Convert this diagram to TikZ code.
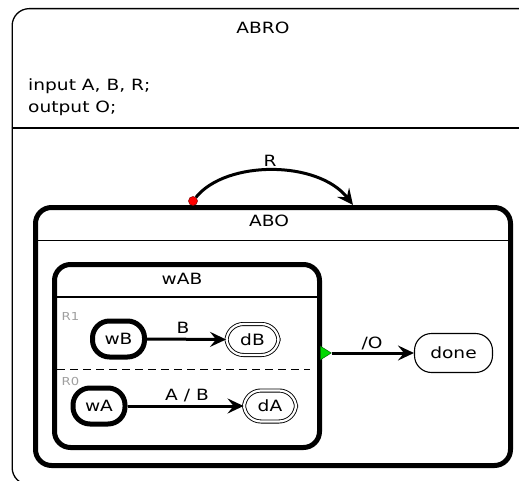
\documentclass[tikz,border=0pt]{standalone}
\usepackage{fontspec}
\setmainfont{DejaVu Sans}[FakeStretch=1.2]
\usetikzlibrary{arrows.meta,shapes.geometric}

\tikzset{
  lbl/.style={inner sep=0pt, anchor=base, font=\fontsize{15.5}{18}\selectfont},
  small/.style={inner sep=0pt, anchor=base west, text=gray!75, font=\fontsize{11}{13}\selectfont},
  composite/.style={draw, line width=5pt, rounded corners=16pt, inner sep=0pt, anchor=north west},
  statebox/.style={draw, rounded corners=17pt, inner sep=0pt, font=\fontsize{15.5}{18}\selectfont},
  initstate/.style={statebox, line width=5pt, minimum width=52pt, minimum height=36pt},
  finalstate/.style={statebox, double, line width=0.9pt, double distance=2.2pt, minimum width=52pt, minimum height=31pt},
  plainstate/.style={statebox, line width=1.1pt, minimum width=78pt, minimum height=39pt},
  sep/.style={line width=1.2pt},
  trans/.style={line width=3pt, -{Stealth[length=16pt,width=15pt,inset=6pt]}},
}

\begin{document}
\begin{tikzpicture}[x=1pt,y=-1pt]
\useasboundingbox (0,0) rectangle (519,481);
\clip (0,0) rectangle (519,481);

% top-level state ABRO with its declarations
\node[draw, line width=1.3pt, rounded corners=17pt, inner sep=0pt, anchor=north west,
      minimum width=530pt, minimum height=476pt] (abro) at (11.5,8) {};
\node[lbl] (abrotitle) at (263,34) {ABRO};
\node[lbl, anchor=base west] (decl1) at (28,91) {input A, B, R;};
\node[lbl, anchor=base west] (decl2) at (28,113) {output O;};
\draw[sep] (abro.west |- 0,128) -- (abro.east |- 0,128);

% macro state ABO
\node[composite, minimum width=475pt, minimum height=258pt] (abo) at (33,205) {};
\node[lbl] (abotitle) at (269,226) {ABO};
\draw[sep] (abo.west |- 0,240.5) -- (abo.east |- 0,240.5);

% parallel state wAB
\node[composite, minimum width=265pt, minimum height=183pt] (wab) at (52,262) {};
\node[lbl] (wabtitle) at (182,284) {wAB};
\draw[sep] (wab.west |- 0,297) -- (wab.east |- 0,297);
\draw[line width=1.2pt, dash pattern=on 8pt off 5pt] (57,369.5) -- (310,369.5);
\node[small] (r1) at (61.5,320) {R1};
\node[small] (r0) at (61.5,385) {R0};

% region R1
\node[initstate] (wB) at (118.5,339) {wB};
\node[finalstate] (dB) at (252.5,339.5) {dB};
\draw[trans] (wB.east) -- (dB.west);
\node[lbl] (lB) at (183,333) {B};

% region R0
\node[initstate] (wA) at (99,406) {wA};
\node[finalstate] (dA) at (270,406) {dA};
\draw[trans] (wA.east) -- (dA.west);
\node[lbl] (lAB) at (187,400) {A / B};

% normal termination of wAB
\node[plainstate] (done) at (453.5,353) {done};
\node[isosceles triangle, isosceles triangle apex angle=64, draw=green!40!black, fill=green!85!black,
      line width=0.5pt, minimum height=11pt, inner sep=0pt, anchor=west] (term) at (320,353) {};
\draw[trans] (term.east) -- (done.west);
\node[lbl] (lO) at (372,348.5) {/O};

% strong abort on R
\node[circle, fill=red, draw=red!50!black, line width=0.5pt, inner sep=0pt, minimum size=9pt] (rdot) at (193,201) {};
\coordinate (rin) at (353,205);
\draw[trans] (rdot) .. controls (226,160) and (318,160) .. (rin);
\node[lbl] (lR) at (270,166.5) {R};
\end{tikzpicture}
\end{document}
